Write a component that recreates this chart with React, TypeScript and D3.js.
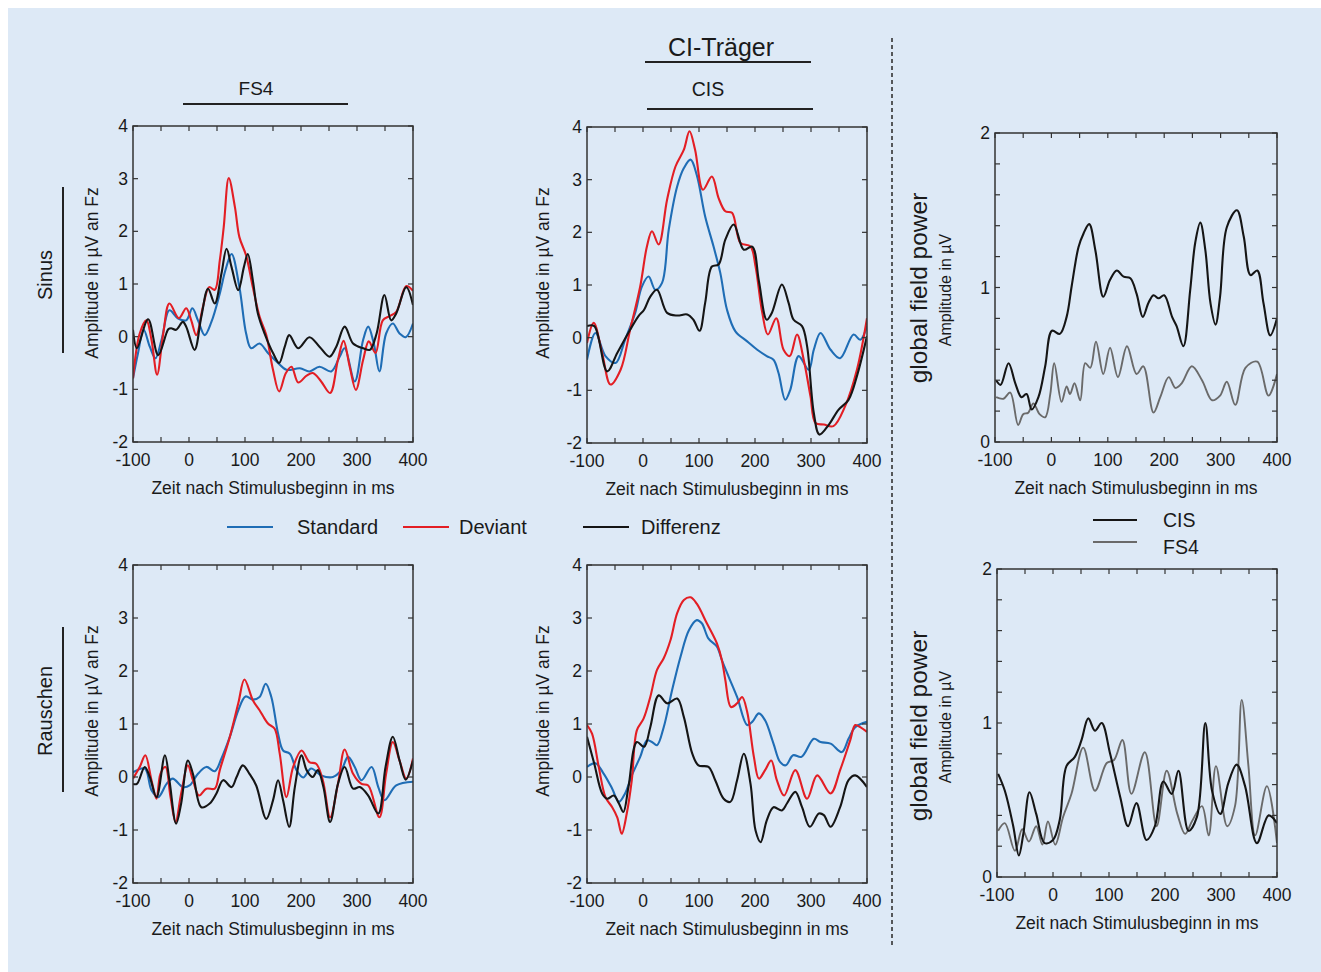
import React from "react";
import * as d3 from "d3";

type P = [number, number];

// ---- tick labels ----
const xTickLabels = [-100, 0, 100, 200, 300, 400];
const erpYTicks = [-2, -1, 0, 1, 2, 3, 4];
const gfpYLabels = [0, 1, 2];

// ---- FS4 / Sinus ----
const fs4SinusStandard: P[] = [[-100,-0.79],[-91,-0.31],[-81,0.13],[-70,-0.19],[-60,-0.41],[-49,-0.06],[-35,0.5],[-20,0.35],[-5,0.31],[6,0.54],[16,0.31],[28,0.03],[40,0.28],[55,0.82],[65,1.26],[76,1.57],[90,0.94],[102,0.06],[111,-0.22],[126,-0.13],[141,-0.31],[159,-0.5],[174,-0.63],[198,-0.6],[215,-0.66],[233,-0.57],[254,-0.66],[269,-0.38],[278,-0.22],[296,-0.85],[311,-0.06],[320,0.19],[330,-0.13],[340,-0.66],[352,0.06],[364,0.25],[376,0.06],[387,-0.01],[400,0.25]];
const fs4SinusDeviant: P[] = [[-100,-0.79],[-88,0.06],[-76,0.31],[-67,-0.06],[-57,-0.72],[-46,0.06],[-35,0.63],[-18,0.35],[-5,0.54],[4,0.31],[13,0.03],[25,0.57],[36,0.94],[46,0.89],[55,1.45],[62,2.08],[71,3.01],[82,2.46],[90,1.89],[102,1.54],[114,0.94],[126,0.38],[138,0.03],[150,-0.63],[161,-1.04],[173,-0.69],[183,-0.57],[195,-0.87],[210,-0.74],[221,-0.69],[236,-0.85],[252,-1.07],[266,-0.44],[276,-0.08],[287,-0.57],[298,-1.01],[311,-0.44],[321,-0.09],[333,-0.31],[346,0.31],[358,0.39],[370,0.47],[388,0.96],[400,0.87]];
const fs4SinusDiff: P[] = [[-100,0.13],[-93,-0.22],[-73,0.33],[-55,-0.35],[-37,0.14],[-32,0.16],[-23,0.13],[-11,0.28],[-5,0.19],[10,-0.25],[22,0.38],[34,0.91],[46,0.63],[58,1.2],[67,1.67],[76,1.32],[88,0.88],[98,1.32],[105,1.57],[114,1.07],[123,0.44],[135,0.06],[150,-0.31],[161,-0.5],[171,-0.19],[179,0.03],[195,-0.22],[215,-0.01],[233,-0.19],[251,-0.38],[263,-0.19],[278,0.19],[293,-0.13],[311,-0.22],[323,-0.25],[335,0.06],[349,0.79],[361,0.31],[370,0.44],[388,0.94],[400,0.6]];

// ---- CIS / Sinus ----
const cisSinusStandard: P[] = [[-100,-0.42],[-85,0.09],[-67,-0.35],[-49,-0.48],[-32,-0.04],[-14,0.47],[-2,0.97],[10,1.16],[22,0.91],[34,1.04],[46,2.05],[61,2.87],[73,3.22],[85,3.38],[96,3.09],[111,2.3],[126,1.73],[138,1.23],[150,0.53],[165,0.12],[186,-0.07],[204,-0.23],[221,-0.35],[233,-0.42],[242,-0.67],[254,-1.18],[263,-0.99],[278,-0.35],[296,-0.61],[305,-0.23],[317,0.09],[335,-0.23],[352,-0.39],[376,0.06],[388,-0.04],[400,0.22]];
const cisSinusDeviant: P[] = [[-100,-0.1],[-88,0.28],[-73,-0.29],[-58,-0.89],[-40,-0.61],[-23,0.15],[-5,0.97],[7,1.73],[16,2.02],[28,1.77],[43,2.62],[58,3.25],[73,3.57],[83,3.92],[93,3.57],[107,2.81],[123,3.06],[135,2.65],[147,2.4],[159,2.37],[174,1.8],[192,1.73],[201,1.35],[213,0.47],[223,0.06],[238,0.37],[251,-0.23],[262,-0.35],[275,0.06],[287,-0.42],[299,-1.11],[308,-1.62],[323,-1.65],[340,-1.68],[361,-1.3],[382,-0.61],[400,0.37]];
const cisSinusDiff: P[] = [[-100,0.22],[-87,0.22],[-64,-0.64],[-46,-0.29],[-23,0.15],[-8,0.41],[2,0.53],[13,0.78],[25,0.91],[43,0.47],[61,0.42],[79,0.44],[90,0.34],[101,0.13],[111,0.66],[123,1.35],[135,1.39],[147,1.86],[162,2.15],[180,1.67],[195,1.73],[207,1.07],[221,0.34],[230,0.47],[248,1.01],[260,0.66],[269,0.34],[284,0.22],[293,-0.16],[305,-1.43],[315,-1.84],[332,-1.65],[349,-1.37],[367,-1.18],[382,-0.73],[400,0.03]];

// ---- FS4 / Rauschen ----
const fs4NoiseStandard: P[] = [[-100,0.09],[-79,0.16],[-67,-0.25],[-55,-0.38],[-40,-0.13],[-29,-0.03],[-11,-0.19],[1,-0.16],[16,0.06],[31,0.19],[46,0.11],[58,0.35],[73,0.76],[88,1.26],[101,1.52],[114,1.46],[126,1.51],[137,1.76],[147,1.51],[159,0.82],[168,0.5],[180,0.44],[192,0.13],[204,-0.01],[218,0.16],[236,0.03],[257,0.0],[272,0.13],[284,0.38],[296,0.19],[308,-0.06],[326,0.19],[338,-0.19],[349,-0.44],[370,-0.16],[400,-0.09]];
const fs4NoiseDeviant: P[] = [[-100,-0.03],[-88,0.19],[-78,0.41],[-67,-0.06],[-58,-0.41],[-51,0.06],[-42,0.19],[-33,-0.38],[-24,-0.85],[-14,-0.31],[-2,0.22],[7,-0.06],[18,-0.35],[31,-0.22],[46,-0.22],[55,0.13],[73,0.76],[88,1.39],[99,1.84],[114,1.45],[126,1.26],[141,1.01],[153,0.91],[162,0.44],[174,-0.38],[186,0.19],[201,0.5],[215,0.28],[227,0.25],[239,-0.06],[252,-0.76],[266,-0.13],[278,0.52],[293,0.06],[308,-0.13],[320,-0.16],[340,-0.76],[352,0.06],[364,0.66],[376,0.31],[388,-0.03],[400,0.35]];
const fs4NoiseDiff: P[] = [[-100,-0.13],[-93,-0.13],[-79,0.19],[-70,0.0],[-58,-0.38],[-43,0.41],[-35,-0.06],[-23,-0.88],[-14,-0.5],[-2,0.31],[7,0.06],[22,-0.57],[37,-0.5],[49,-0.31],[61,-0.06],[76,-0.19],[85,0.0],[96,0.22],[108,0.06],[120,-0.16],[138,-0.79],[150,-0.44],[159,-0.06],[168,-0.44],[179,-0.94],[189,-0.19],[201,0.41],[210,0.13],[221,0.0],[230,0.13],[240,-0.19],[252,-0.85],[266,-0.13],[278,0.19],[293,-0.22],[305,-0.19],[320,-0.35],[338,-0.69],[351,0.19],[364,0.76],[376,0.31],[387,-0.05],[400,0.31]];

// ---- CIS / Rauschen ----
const cisNoiseStandard: P[] = [[-100,0.19],[-85,0.26],[-70,0.06],[-55,-0.22],[-43,-0.47],[-32,-0.31],[-20,0.03],[-5,0.38],[7,0.69],[16,0.66],[25,0.6],[37,0.94],[52,1.64],[67,2.27],[82,2.77],[96,2.96],[105,2.9],[117,2.61],[132,2.46],[141,2.2],[153,1.89],[168,1.51],[186,0.98],[195,1.04],[207,1.2],[218,1.07],[233,0.63],[245,0.28],[255,0.22],[268,0.41],[283,0.38],[305,0.72],[317,0.66],[335,0.63],[355,0.47],[367,0.72],[379,0.94],[400,1.04]];
const cisNoiseDeviant: P[] = [[-100,0.98],[-91,0.82],[-79,0.19],[-67,-0.38],[-55,-0.57],[-46,-0.76],[-38,-1.07],[-29,-0.69],[-20,-0.06],[-11,0.88],[1,1.1],[13,1.51],[25,2.02],[37,2.24],[49,2.58],[61,3.09],[73,3.34],[85,3.39],[96,3.27],[114,2.9],[132,2.52],[141,2.2],[147,1.83],[157,1.32],[168,1.39],[177,1.51],[186,1.23],[198,0.38],[207,-0.03],[218,0.13],[229,0.31],[239,-0.06],[252,-0.35],[272,0.13],[293,-0.41],[311,0.03],[335,-0.31],[352,0.13],[370,0.69],[379,0.98],[388,0.94],[400,0.85]];
const cisNoiseDiff: P[] = [[-100,0.76],[-87,0.25],[-73,-0.31],[-64,-0.41],[-52,-0.35],[-43,-0.5],[-35,-0.66],[-26,-0.19],[-11,0.66],[2,0.57],[13,0.94],[28,1.54],[43,1.39],[61,1.48],[73,1.13],[88,0.44],[99,0.22],[117,0.19],[129,-0.06],[144,-0.41],[156,-0.47],[168,-0.06],[180,0.44],[192,-0.13],[201,-1.01],[210,-1.23],[221,-0.82],[233,-0.57],[248,-0.63],[257,-0.5],[272,-0.28],[284,-0.57],[298,-0.94],[314,-0.69],[323,-0.72],[335,-0.94],[352,-0.57],[367,-0.06],[379,0.03],[400,-0.19]];

// ---- Global field power ----
const gfpSinusCIS: P[] = [[-98,0.4],[-90,0.37],[-76,0.51],[-64,0.38],[-53,0.29],[-44,0.31],[-35,0.21],[-23,0.29],[-11,0.49],[1,0.72],[15,0.7],[27,0.81],[36,1.01],[48,1.26],[57,1.35],[67,1.41],[78,1.24],[92,0.94],[104,1.05],[116,1.11],[128,1.07],[140,1.06],[151,0.96],[162,0.81],[172,0.9],[181,0.95],[190,0.93],[200,0.95],[214,0.81],[222,0.75],[234,0.62],[246,0.98],[255,1.29],[264,1.42],[273,1.24],[282,0.9],[291,0.76],[299,0.94],[311,1.39],[329,1.5],[341,1.33],[353,1.08],[365,1.11],[376,0.9],[388,0.69],[400,0.8]];
const gfpSinusFS4: P[] = [[-98,0.29],[-85,0.28],[-73,0.32],[-59,0.11],[-50,0.18],[-41,0.19],[-32,0.25],[-21,0.18],[-11,0.16],[-2,0.31],[5,0.51],[18,0.26],[27,0.36],[33,0.31],[41,0.38],[51,0.27],[60,0.51],[69,0.48],[79,0.65],[92,0.44],[104,0.61],[118,0.42],[134,0.62],[151,0.44],[163,0.49],[181,0.19],[193,0.29],[208,0.42],[220,0.35],[231,0.38],[249,0.49],[267,0.4],[285,0.27],[299,0.3],[311,0.39],[326,0.24],[344,0.48],[365,0.52],[385,0.3],[400,0.44]];
const gfpNoiseCIS: P[] = [[-98,0.67],[-86,0.56],[-71,0.33],[-61,0.14],[-53,0.28],[-42,0.55],[-30,0.41],[-15,0.22],[0,0.24],[12,0.37],[24,0.72],[39,0.78],[51,0.89],[63,1.03],[75,0.95],[87,1.0],[102,0.8],[120,0.52],[134,0.33],[149,0.48],[167,0.24],[182,0.33],[197,0.62],[212,0.54],[224,0.69],[242,0.3],[257,0.39],[272,1.0],[284,0.56],[299,0.41],[313,0.61],[328,0.73],[343,0.59],[364,0.22],[385,0.4],[400,0.35]];
const gfpNoiseFS4: P[] = [[-98,0.3],[-86,0.35],[-68,0.17],[-55,0.31],[-43,0.23],[-30,0.33],[-19,0.21],[-9,0.36],[4,0.21],[18,0.39],[33,0.54],[54,0.84],[75,0.56],[96,0.74],[109,0.76],[124,0.89],[140,0.54],[164,0.81],[185,0.33],[203,0.69],[222,0.41],[236,0.28],[248,0.36],[266,0.46],[278,0.27],[291,0.72],[311,0.33],[325,0.46],[337,1.15],[349,0.72],[361,0.27],[382,0.59],[400,0.22]];

const BLUE = "#1f6db5";
const RED = "#e31e24";
const BLACK = "#151515";
const GRAY = "#6a6a6a";
const FONT = "'Liberation Sans', Arial, sans-serif";
const TXT = "#1a1a1a";

type Series = { data: P[]; color: string; width: number };

function Panel(props: {
  left: number; right: number; top: number; bottom: number;
  yDomain: [number, number]; yTickStep: number; yLabels: number[];
  series: Series[];
}) {
  const { left, right, top, bottom, yDomain, yTickStep, yLabels, series } = props;
  const x = d3.scaleLinear().domain([-100, 400]).range([left, right]);
  const y = d3.scaleLinear().domain(yDomain).range([bottom, top]);
  const line = d3.line<P>().x(d => x(d[0])).y(d => y(d[1])).curve(d3.curveCatmullRom.alpha(0.5));
  const xMinor = d3.range(-100, 401, 50);
  const n = Math.round((yDomain[1] - yDomain[0]) / yTickStep);
  const yMinor = d3.range(0, n + 1).map(i => yDomain[0] + i * yTickStep);
  const tl = 5;
  const clipId = `clip${Math.round(left)}_${Math.round(top)}`;
  return (
    <g>
      <defs>
        <clipPath id={clipId}>
          <rect x={left} y={top - 2} width={right - left} height={bottom - top + 4} />
        </clipPath>
      </defs>
      <g clipPath={`url(#${clipId})`}>
        {series.map((s, i) => (
          <path key={i} d={line(s.data) || ""} fill="none" stroke={s.color} strokeWidth={s.width} strokeLinejoin="round" />
        ))}
      </g>
      {xMinor.map(t => (
        <g key={"xt" + t}>
          <line x1={x(t)} x2={x(t)} y1={bottom} y2={bottom - tl} stroke="#333" strokeWidth={1.2} />
          <line x1={x(t)} x2={x(t)} y1={top} y2={top + tl} stroke="#333" strokeWidth={1.2} />
        </g>
      ))}
      {yMinor.map(v => (
        <g key={"yt" + v}>
          <line x1={left} x2={left + tl} y1={y(v)} y2={y(v)} stroke="#333" strokeWidth={1.2} />
          <line x1={right} x2={right - tl} y1={y(v)} y2={y(v)} stroke="#333" strokeWidth={1.2} />
        </g>
      ))}
      <rect x={left} y={top} width={right - left} height={bottom - top} fill="none" stroke="#333" strokeWidth={1.5} />
      {xTickLabels.map(t => (
        <text key={"xl" + t} x={x(t)} y={bottom + 24} textAnchor="middle" fontSize={17.5} fill={TXT}>{t}</text>
      ))}
      {yLabels.map(v => (
        <text key={"yl" + v} x={left - 5} y={y(v) + 6} textAnchor="end" fontSize={17.5} fill={TXT}>{v}</text>
      ))}
      <text x={(left + right) / 2} y={bottom + 52} textAnchor="middle" fontSize={17.5} fill={TXT}>Zeit nach Stimulusbeginn in ms</text>
    </g>
  );
}

function RotText(props: { x: number; y: number; size: number; children: React.ReactNode }) {
  return (
    <text transform={`translate(${props.x},${props.y}) rotate(-90)`} textAnchor="middle" dominantBaseline="central" fontSize={props.size} fill={TXT}>
      {props.children}
    </text>
  );
}

export default function App() {
  const erp = { yDomain: [-2, 4] as [number, number], yTickStep: 1, yLabels: erpYTicks };
  const gfp = { yDomain: [0, 2] as [number, number], yTickStep: 0.2, yLabels: gfpYLabels };
  const W = 2.1;
  return (
    <svg width={1340} height={990} style={{ display: "block", position: "fixed", left: 8, top: 8 }} fontFamily={FONT}>
      <g transform="translate(-8,-8)">
        <rect x={8} y={8} width={1400} height={1000} fill="#dde9f6" />
        {/* titles */}
        <text x={256} y={95} textAnchor="middle" fontSize={19} fill={TXT}>FS4</text>
        <line x1={183} x2={348} y1={104} y2={104} stroke="#222" strokeWidth={2} />
        <text x={721} y={56} textAnchor="middle" fontSize={25} fill={TXT}>CI-Träger</text>
        <line x1={645} x2={811} y1={62} y2={62} stroke="#222" strokeWidth={2} />
        <text x={708} y={96} textAnchor="middle" fontSize={19.5} fill={TXT}>CIS</text>
        <line x1={647} x2={813} y1={109} y2={109} stroke="#222" strokeWidth={2} />

        {/* row labels */}
        <RotText x={45} y={275} size={20}>Sinus</RotText>
        <line x1={63} x2={63} y1={187} y2={353} stroke="#222" strokeWidth={2} />
        <RotText x={45} y={711} size={20}>Rauschen</RotText>
        <line x1={63} x2={63} y1={627} y2={792} stroke="#222" strokeWidth={2} />

        {/* y axis labels */}
        <RotText x={92} y={273} size={17.5}>Amplitude in µV an Fz</RotText>
        <RotText x={543} y={273} size={17.5}>Amplitude in µV an Fz</RotText>
        <RotText x={92} y={711} size={17.5}>Amplitude in µV an Fz</RotText>
        <RotText x={543} y={711} size={17.5}>Amplitude in µV an Fz</RotText>
        <RotText x={918} y={288} size={24.5}>global field power</RotText>
        <RotText x={945} y={290} size={16}>Amplitude in µV</RotText>
        <RotText x={918} y={726} size={24.5}>global field power</RotText>
        <RotText x={945} y={727} size={16}>Amplitude in µV</RotText>

        {/* dashed separator */}
        <line x1={892} x2={892} y1={38} y2={945} stroke="#333" strokeWidth={1.6} strokeDasharray="4,3" />

        <Panel left={133} right={413} top={126} bottom={442} {...erp}
          series={[{ data: fs4SinusStandard, color: BLUE, width: W }, { data: fs4SinusDeviant, color: RED, width: W }, { data: fs4SinusDiff, color: BLACK, width: W }]} />
        <Panel left={587} right={867} top={127} bottom={443} {...erp}
          series={[{ data: cisSinusStandard, color: BLUE, width: W }, { data: cisSinusDeviant, color: RED, width: W }, { data: cisSinusDiff, color: BLACK, width: W }]} />
        <Panel left={995} right={1277} top={133} bottom={442} {...gfp}
          series={[{ data: gfpSinusFS4, color: GRAY, width: 1.9 }, { data: gfpSinusCIS, color: BLACK, width: 2.1 }]} />
        <Panel left={133} right={413} top={565} bottom={883} {...erp}
          series={[{ data: fs4NoiseStandard, color: BLUE, width: W }, { data: fs4NoiseDeviant, color: RED, width: W }, { data: fs4NoiseDiff, color: BLACK, width: W }]} />
        <Panel left={587} right={867} top={565} bottom={883} {...erp}
          series={[{ data: cisNoiseStandard, color: BLUE, width: W }, { data: cisNoiseDeviant, color: RED, width: W }, { data: cisNoiseDiff, color: BLACK, width: W }]} />
        <Panel left={997} right={1277} top={569} bottom={877} {...gfp}
          series={[{ data: gfpNoiseFS4, color: GRAY, width: 1.9 }, { data: gfpNoiseCIS, color: BLACK, width: 2.1 }]} />

        {/* legend ERP */}
        <line x1={227} x2={273} y1={527} y2={527} stroke={BLUE} strokeWidth={2.2} />
        <text x={297} y={534} fontSize={20} fill={TXT}>Standard</text>
        <line x1={403} x2={449} y1={527} y2={527} stroke={RED} strokeWidth={2.2} />
        <text x={459} y={534} fontSize={20} fill={TXT}>Deviant</text>
        <line x1={583} x2={629} y1={527} y2={527} stroke={BLACK} strokeWidth={2.2} />
        <text x={641} y={534} fontSize={20} fill={TXT}>Differenz</text>

        {/* legend GFP */}
        <line x1={1093} x2={1137} y1={520} y2={520} stroke={BLACK} strokeWidth={2.2} />
        <text x={1163} y={527} fontSize={19.5} fill={TXT}>CIS</text>
        <line x1={1093} x2={1137} y1={542} y2={542} stroke={GRAY} strokeWidth={2.2} />
        <text x={1163} y={554} fontSize={19.5} fill={TXT}>FS4</text>
      </g>
    </svg>
  );
}
